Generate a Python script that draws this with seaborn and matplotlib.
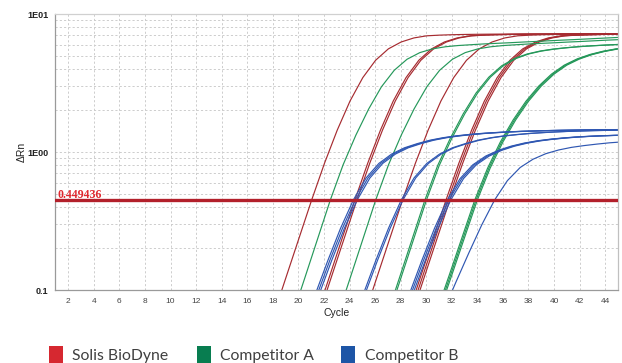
import numpy as np
import pandas as pd
import matplotlib
matplotlib.use("Agg")
import matplotlib.pyplot as plt
import seaborn as sns
from matplotlib.ticker import LogLocator, NullFormatter
from matplotlib.patches import Rectangle

# ---- data -----------------------------------------------------------------
# Amplification profiles: delta Rn at whole cycles relative to the
# threshold-crossing cycle (Ct), starting REL_START cycles before Ct.
REL_START = -4
THRESHOLD = 0.449436

solis_profile = [0.034, 0.065, 0.124, 0.236, 0.449, 0.827, 1.44, 2.34, 3.46, 4.62,
                 5.59, 6.27, 6.71, 6.95, 7.03, 7.08, 7.11, 7.13, 7.145, 7.155,
                 7.165, 7.175, 7.18, 7.185, 7.19, 7.195, 7.2, 7.205, 7.21]

compA_profile = [0.033, 0.064, 0.122, 0.234, 0.449, 0.808, 1.326, 2.05, 2.97, 3.91,
                 4.70, 5.25, 5.59, 5.79, 5.91, 5.99, 6.07, 6.13, 6.19, 6.26,
                 6.32, 6.39, 6.46, 6.52, 6.59, 6.66, 6.73, 6.8]
compA_mid_profile = [0.033, 0.064, 0.122, 0.234, 0.449, 0.799, 1.266, 1.894, 2.676, 3.487,
                     4.212, 4.759, 5.134, 5.389, 5.566, 5.695, 5.801, 5.882, 5.95, 6.012,
                     6.067]
compA_late_profile = [0.037, 0.069, 0.128, 0.24, 0.449, 0.763, 1.182, 1.708, 2.331, 3.003,
                      3.669, 4.261, 4.726, 5.088, 5.365, 5.579, 5.735]

compB_profile = [0.0504, 0.0918, 0.163, 0.28, 0.449, 0.649, 0.827, 0.967, 1.073, 1.15,
                 1.218, 1.269, 1.308, 1.338, 1.363, 1.382, 1.398, 1.411, 1.42, 1.429,
                 1.435, 1.44, 1.445, 1.449, 1.452, 1.455]
compB_mid_profile = [0.0504, 0.0918, 0.163, 0.28, 0.449, 0.642, 0.808, 0.934, 1.029, 1.103,
                     1.16, 1.204, 1.237, 1.263, 1.284, 1.299, 1.311, 1.32, 1.326]
compB_late_profile = [0.0704, 0.1155, 0.187, 0.297, 0.449, 0.62, 0.772, 0.886, 0.972, 1.034,
                      1.08, 1.113, 1.141, 1.166, 1.184]

# Ct of every replicate, one list per dilution
solis_ct = [[21.04], [24.42, 24.58], [28.15], [31.55, 31.7, 31.85]]
compA_ct = [[22.5], [26.05], [29.9, 30.02], [33.8, 33.9, 34.0]]
compB_ct = [[24.3, 24.45, 24.6], [28.05, 28.18], [31.65, 31.78, 31.92], [35.35]]

products = ["Solis BioDyne", "Competitor A", "Competitor B"]
curve_colors = ["#a62b30", "#25985a", "#2f57b2"]
legend_colors = ["#d62830", "#087d50", "#1d55a6"]

groups = {
    "Solis BioDyne": list(zip([solis_profile] * 4, solis_ct)),
    "Competitor A": list(zip([compA_profile, compA_profile, compA_mid_profile,
                              compA_late_profile], compA_ct)),
    "Competitor B": list(zip([compB_profile, compB_profile, compB_mid_profile,
                              compB_late_profile], compB_ct)),
}

rows = []
for product in products:
    for g, (profile, cts) in enumerate(groups[product]):
        for rep, ct in enumerate(cts):
            for i, value in enumerate(profile):
                rows.append((product, f"{product} {g}-{rep}", ct + REL_START + i, value))
df = pd.DataFrame(rows, columns=["product", "curve", "cycle", "drn"])

# ---- figure ---------------------------------------------------------------
sns.set_theme(style="white")
plt.rcParams["font.family"] = ["Liberation Sans", "DejaVu Sans"]

fig = plt.figure(figsize=(6.22, 3.63), dpi=100)
ax = fig.add_axes([0.0892, 0.2011, 0.9043, 0.7603])

sns.lineplot(data=df, x="cycle", y="drn", hue="product", units="curve",
             estimator=None, sort=False, palette=dict(zip(products, curve_colors)),
             linewidth=0.85, legend=False, ax=ax)

ax.set_yscale("log")
ax.set_ylim(0.1, 10)
ax.set_xlim(1, 45)

ax.set_xticks(range(2, 45, 2))
ax.set_yticks([0.1, 1, 10])
ax.set_yticklabels(["0.1", "1E00", "1E01"])
ax.yaxis.set_minor_locator(LogLocator(base=10, subs=np.arange(2, 10)))
ax.yaxis.set_minor_formatter(NullFormatter())

grid_kw = dict(color="#cdcdcd", linewidth=0.7, linestyle=(0, (2.2, 2.2)))
ax.grid(True, which="both", axis="y", **grid_kw)
ax.grid(True, which="major", axis="x", **grid_kw)
ax.set_axisbelow(True)

ax.tick_params(axis="y", which="major", length=3, width=0.8, color="#999999",
               labelsize=6.5, pad=2, labelcolor="#222222")
ax.tick_params(axis="y", which="minor", length=0)
ax.tick_params(axis="x", which="major", length=2, width=0.8, color="#999999",
               labelsize=6, pad=4, labelcolor="#444444")
for lab in ax.get_yticklabels():
    lab.set_fontweight("bold")

for side, col in (("left", "#9a9a9a"), ("bottom", "#9a9a9a"),
                  ("top", "#d0d0d0"), ("right", "#c0c0c0")):
    ax.spines[side].set_color(col)
    ax.spines[side].set_linewidth(0.9)

ax.set_xlabel("Cycle", fontsize=7.5, color="#222222")
ax.xaxis.set_label_coords(0.5, -0.083)
ax.xaxis.label.set_va("center")
ax.set_ylabel("\u0394Rn", fontsize=7.5, color="#222222")
ax.yaxis.set_label_coords(-0.0605, 0.5)
ax.yaxis.label.set_va("center")
ax.yaxis.label.set_ha("center")

# threshold line and its value
ax.axhline(THRESHOLD, color="#b3202b", linewidth=2.4, zorder=5)
ax.text(1.12, 0.464, f"{THRESHOLD:g}", color="#e0282e", fontsize=8.6,
        fontweight="bold", family=["Liberation Serif", "DejaVu Serif"],
        va="baseline", ha="left", zorder=6)

# legend row along the bottom edge
W, H = 622.0, 363.0
square_x = [49, 197, 341]
text_x = [72, 220, 365]
for x0, tx, color, name in zip(square_x, text_x, legend_colors, products):
    fig.patches.append(Rectangle((x0 / W, 0.0), 14 / W, 17 / H,
                                 transform=fig.transFigure, color=color,
                                 linewidth=0))
    fig.text(tx / W, 3.0 / H, name, fontsize=11.3, color="#3f3f3f",
             family=["Lato", "DejaVu Sans"], fontweight="normal",
             va="baseline", ha="left")

fig.savefig("out.png", dpi=100, facecolor="white")
